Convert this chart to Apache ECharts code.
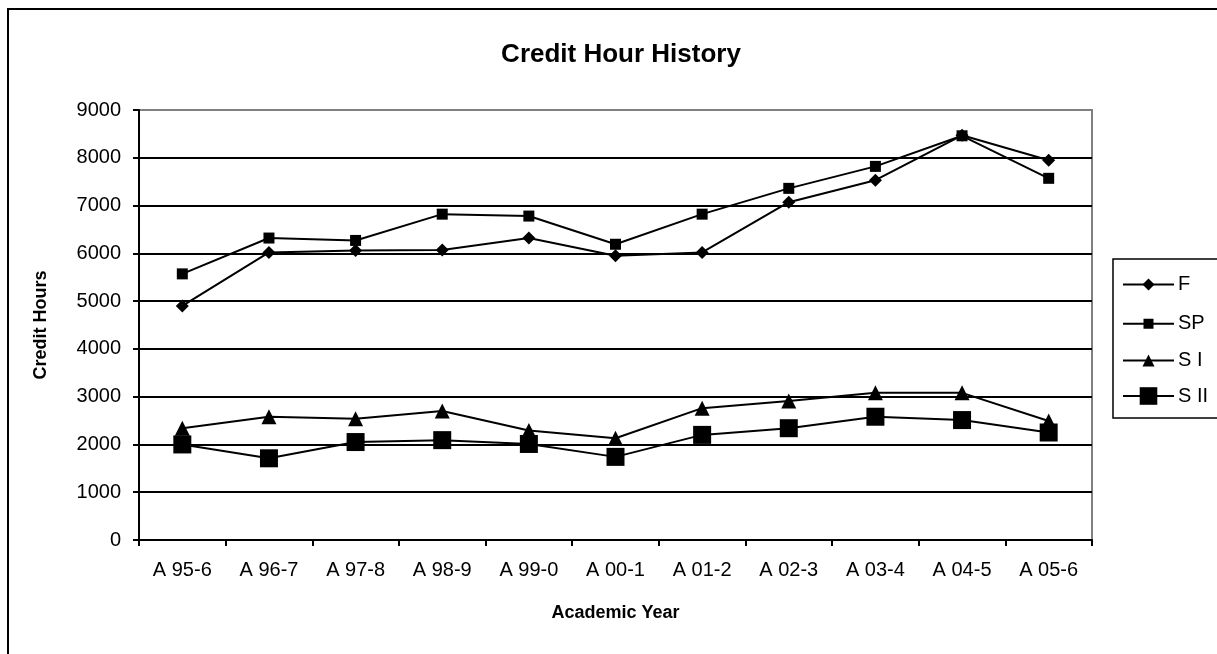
<!DOCTYPE html>
<html>
<head>
<meta charset="utf-8">
<script src="https://cdn.jsdelivr.net/npm/echarts@6/dist/echarts.min.js"></script>
<style>
  html, body { margin: 0; padding: 0; background: #fff; }
  #main { width: 1217px; height: 654px; }
</style>
</head>
<body>
<div id="main"></div>
<script>
// values
var years = ['A 95-6', 'A 96-7', 'A 97-8', 'A 98-9', 'A 99-0', 'A 00-1',
             'A 01-2', 'A 02-3', 'A 03-4', 'A 04-5', 'A 05-6'];
var seriesNames = ['F', 'SP', 'S I', 'S II'];
var fall     = [4900, 6020, 6060, 6070, 6320, 5950, 6020, 7070, 7530, 8470, 7950];
var spring   = [5570, 6320, 6270, 6820, 6780, 6190, 6820, 7360, 7820, 8460, 7570];
var summer1  = [2340, 2580, 2540, 2700, 2290, 2130, 2760, 2910, 3080, 3080, 2490];
var summer2  = [2000, 1710, 2050, 2090, 2010, 1740, 2200, 2340, 2580, 2510, 2250];

var fontName = 'Liberation Sans';

const myChart = echarts.init(document.getElementById('main'), null, { renderer: 'canvas' });

function lineSeries(name, data, symbol, size) {
    return {
        name       : name,
        type       : 'line',
        data       : data,
        symbol     : symbol,
        symbolSize : size,
        animation  : false,
        lineStyle  : { color: '#000', width: 2 },
        itemStyle  : { color: '#000', borderWidth: 0 }
    };
}

// one legend per entry, so each keeps its own marker size (icon symbol = 0.8 * itemHeight)
var legendCenters = [282, 320, 358, 397];
var legendHeights = [15, 12.5, 15, 22];
var legends = seriesNames.map(function (name, i) {
    return {
        data       : [name],
        left       : 1122,
        top        : legendCenters[i] - legendHeights[i] / 2,
        padding    : 0,
        itemWidth  : 51,
        itemHeight : legendHeights[i],
        itemGap    : 0,
        selectedMode: false,
        textStyle  : { fontFamily: fontName, fontSize: 20, color: '#000', padding: [0, 0, 0, -1] }
    };
});

// grid lines black, the top one is the grey plot border
var splitColors = [];
for (var i = 0; i < 9; i++) splitColors.push('#000');
splitColors.push('#808080');

var option = {
    backgroundColor: '#fff',
    title: {
        text: 'Credit Hour History',
        left: 616,
        top: 37,
        textAlign: 'center',
        textStyle: { fontFamily: fontName, fontSize: 26, fontWeight: 'bold', color: '#000' }
    },
    graphic: [
        {
            type  : 'rect',
            shape : { x: 8, y: 9, width: 1300, height: 700 },
            style : { fill: 'none', stroke: '#000', lineWidth: 2 },
            silent: true
        },
        {
            type  : 'rect',
            shape : { x: 1113, y: 259, width: 200, height: 159 },
            style : { fill: 'none', stroke: '#000', lineWidth: 1.5 },
            silent: true
        }
    ],
    legend: legends,
    grid: {
        left        : 139,
        right       : 125,
        top         : 110,
        bottom      : 114,
        show        : true,
        borderColor : '#808080',
        borderWidth : 2
    },
    xAxis: {
        type        : 'category',
        data        : years,
        boundaryGap : true,
        name        : 'Academic Year',
        nameLocation: 'middle',
        nameGap     : 64,
        nameTextStyle: { fontFamily: fontName, fontSize: 18, fontWeight: 'bold', color: '#000' },
        axisLine    : { lineStyle: { color: '#000', width: 2 } },
        axisTick    : { show: true, interval: 0, length: 6, lineStyle: { color: '#000', width: 2 } },
        axisLabel   : { interval: 0, margin: 20, fontFamily: fontName, fontSize: 20, color: '#000' },
        splitLine   : { show: false }
    },
    yAxis: {
        type        : 'value',
        min         : 0,
        max         : 9000,
        interval    : 1000,
        name        : 'Credit Hours',
        nameLocation: 'middle',
        nameGap     : 89,
        nameRotate  : 90,
        nameTextStyle: { fontFamily: fontName, fontSize: 18, fontWeight: 'bold', color: '#000' },
        axisLine    : { show: true, lineStyle: { color: '#000', width: 2 } },
        axisTick    : { show: true, length: 6, lineStyle: { color: '#000', width: 2 } },
        axisLabel   : {
            margin     : 18,
            fontFamily : fontName,
            fontSize   : 20,
            color      : '#000',
            formatter  : function (value) { return String(value); }
        },
        splitLine   : { show: true, lineStyle: { color: splitColors, width: 2 } }
    },
    series: [
        lineSeries('F',    fall,    'diamond',  13),
        lineSeries('SP',   spring,  'rect',     11),
        lineSeries('S I',  summer1, 'triangle', 15),
        lineSeries('S II', summer2, 'rect',     18)
    ]
};

myChart.setOption(option, true);
</script>
</body>
</html>
